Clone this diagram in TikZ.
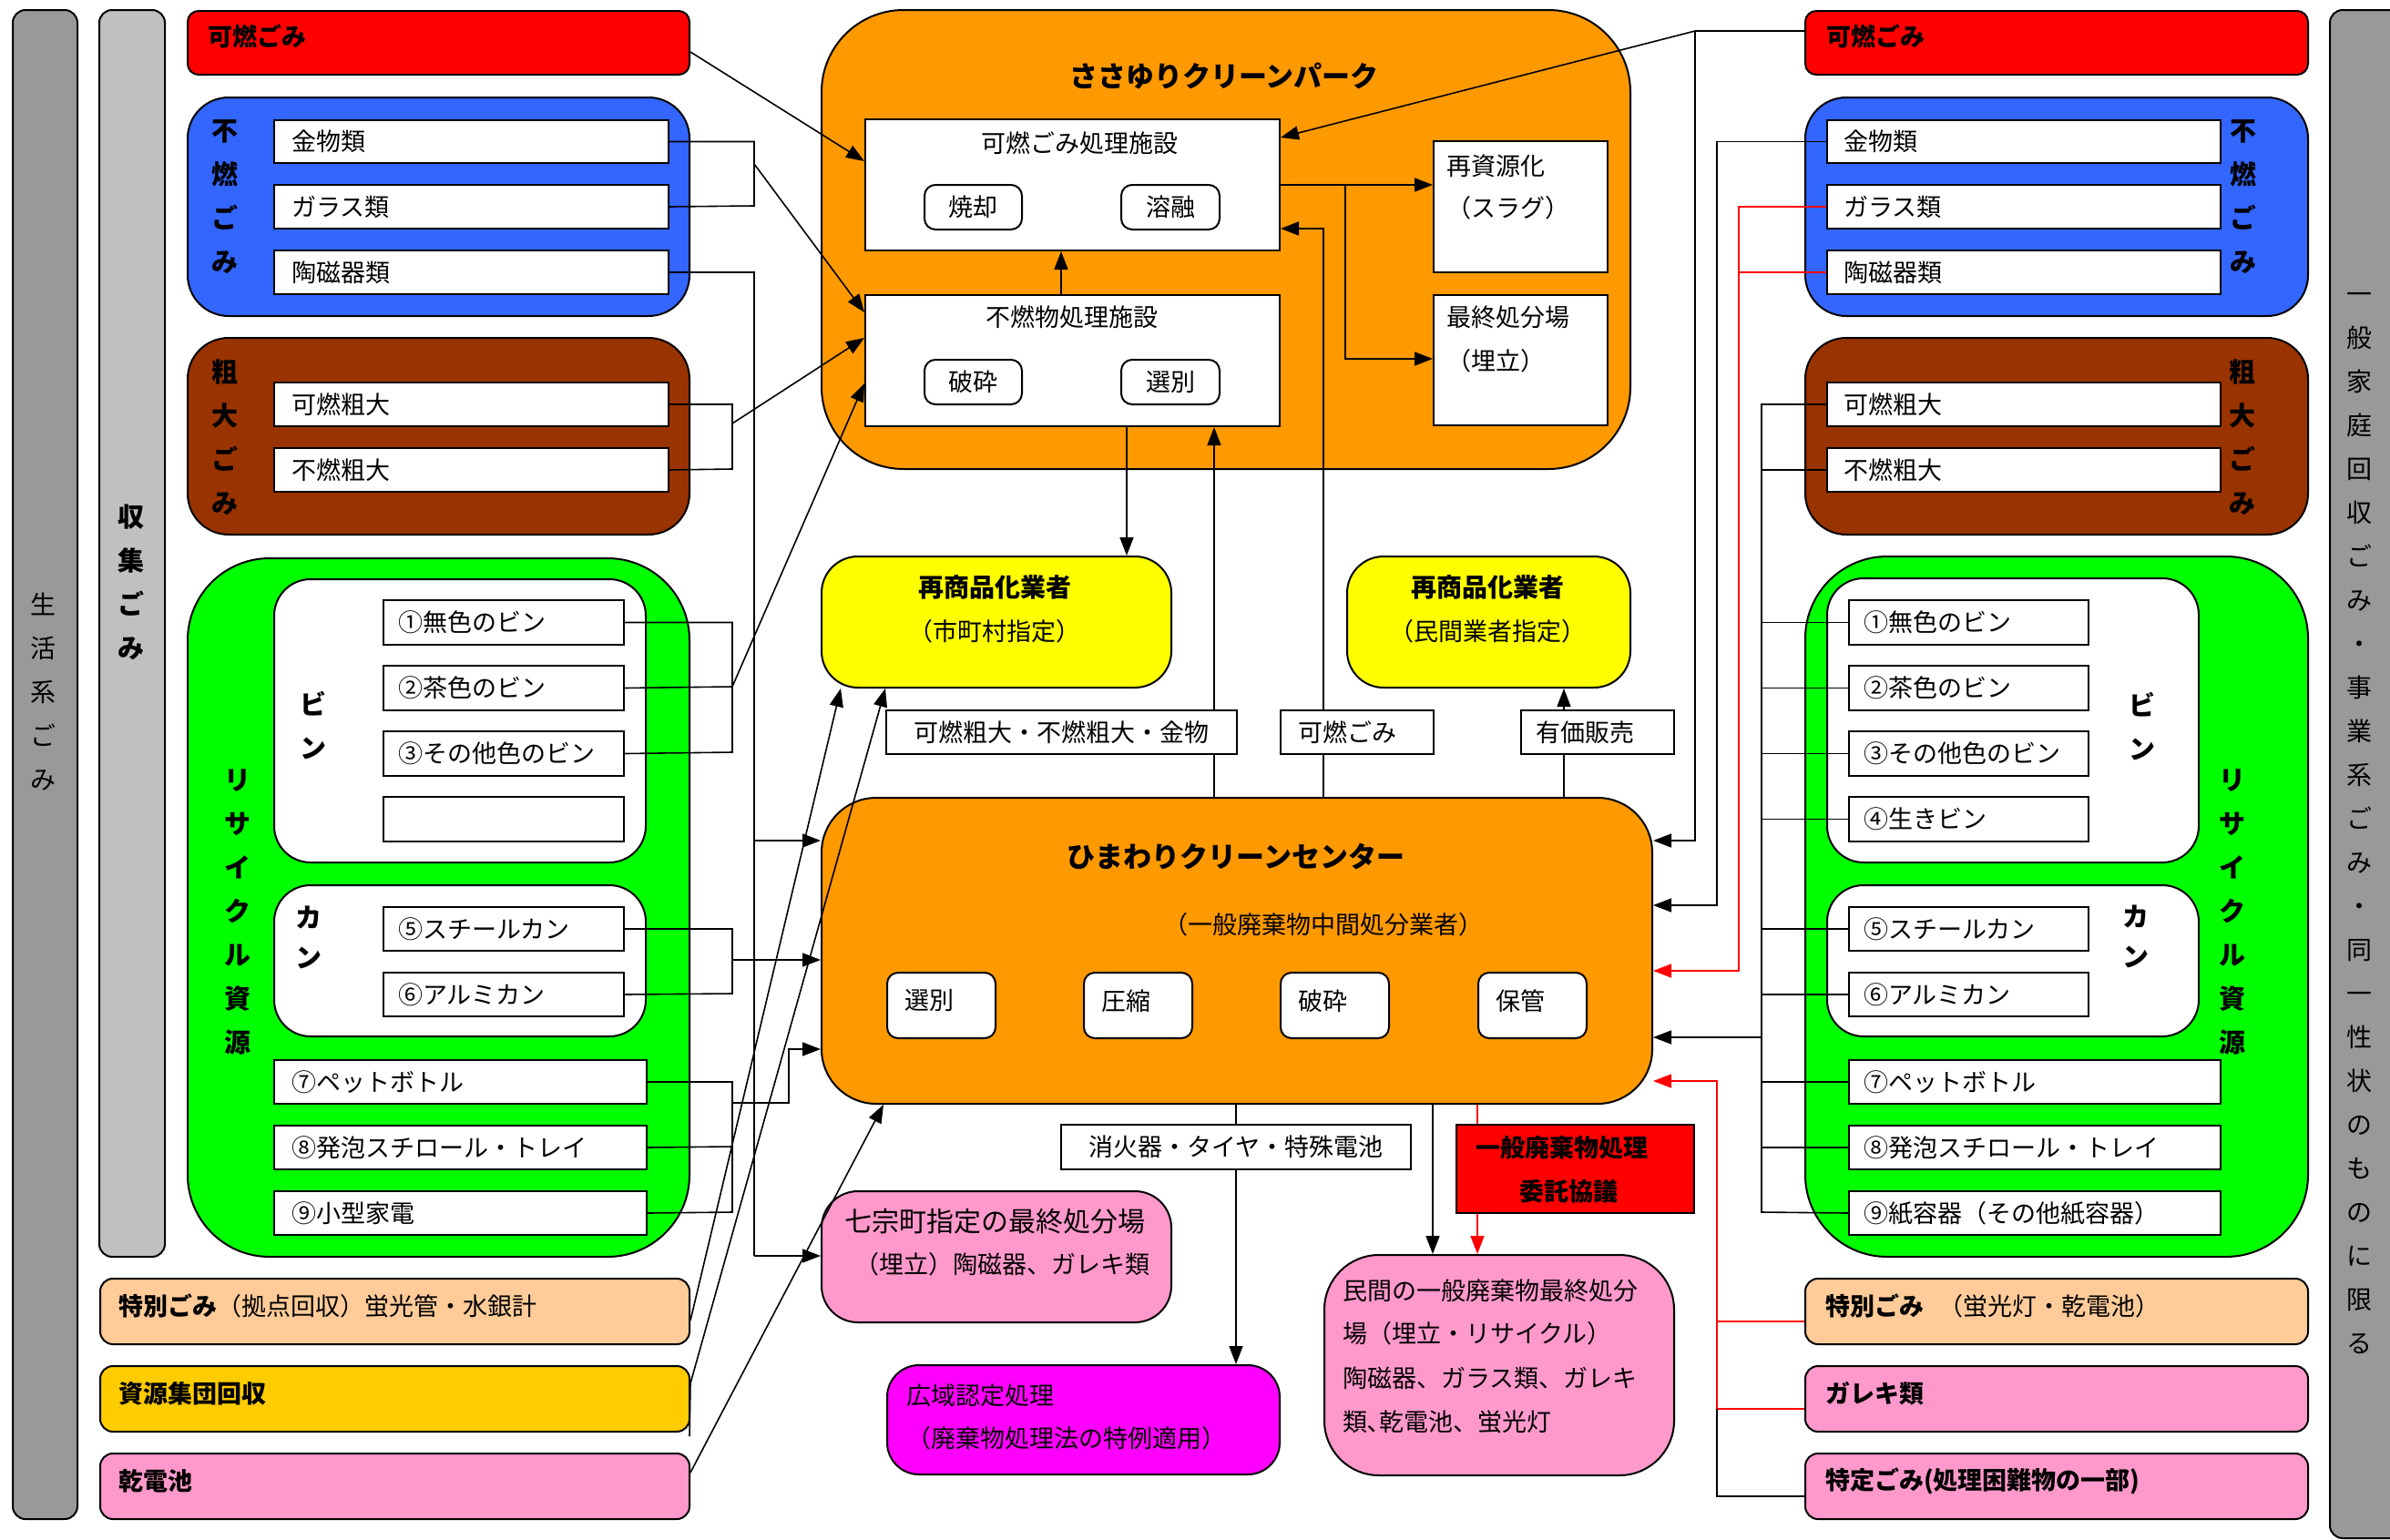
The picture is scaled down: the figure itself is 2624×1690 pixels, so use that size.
\documentclass[tikz,border=0pt]{standalone}
\usepackage{fontspec}
\setmainfont{Noto Sans CJK JP}
\usetikzlibrary{arrows.meta}
\definecolor{cgrayd}{HTML}{999999}
\definecolor{cgrayl}{HTML}{C0C0C0}
\definecolor{cred}{HTML}{FF0000}
\definecolor{cblue}{HTML}{3366FF}
\definecolor{cbrown}{HTML}{993300}
\definecolor{cgreen}{HTML}{00FF00}
\definecolor{corange}{HTML}{FF9900}
\definecolor{cyellow}{HTML}{FFFF00}
\definecolor{cpeach}{HTML}{FFCC99}
\definecolor{cgold}{HTML}{FFCC00}
\definecolor{cpink}{HTML}{FF99CC}
\definecolor{cmag}{HTML}{FF00FF}
\newcommand\bx[7]{%
  \pgfmathsetmacro\bxw{#4-#2}\pgfmathsetmacro\bxh{#5-#3}%
  \node[inner sep=0pt, anchor=north west, minimum width=\bxw pt, minimum height=\bxh pt, #6] (#1) at (#2,#3) {#7};}
\newcommand\bxl[8]{%
  \pgfmathsetmacro\bxw{#4-#2}\pgfmathsetmacro\bxh{#5-#3}\pgfmathsetmacro\bxt{#4-#2-2*#7}%
  \node[inner sep=0pt, anchor=north west, minimum width=\bxw pt, minimum height=\bxh pt, text width=\bxt pt, align=left, #6] (#1) at (#2,#3) {#8};}
\newcommand\upby[2]{\raisebox{#1}[\height][\depth]{#2}}
\tikzset{
  bord/.style={draw=black, line width=2pt},
  wb/.style={bord, fill=white},
  lab/.style={font=\fontsize{27}{32}\selectfont},
  labb/.style={font=\fontsize{27}{32}\selectfont\bfseries},
  ttl/.style={font=\fontsize{31}{36}\selectfont\bfseries},
  sbox/.style={bord, fill=white, rounded corners=12pt, lab},
  vt/.style={align=center, inner sep=0pt, font=\fontsize{29}{48}\selectfont\bfseries},
  vtr/.style={align=center, inner sep=0pt, font=\fontsize{28}{48}\selectfont},
  tx/.style={lab, inner sep=0pt},
  conn/.style={line width=1.6pt, draw=black},
  arr/.style={conn, -{Triangle[length=20pt,width=15pt]}},
  rconn/.style={line width=1.4pt, draw=cred},
  rarr/.style={rconn, -{Triangle[length=20pt,width=15pt]}},
}
\begin{document}
\begin{tikzpicture}[x=1pt,y=-1pt]
\fill[white] (0,0) rectangle (2624,1690);
\useasboundingbox (0,0) rectangle (2624,1690);

% ---------- side bars
\bx{barL}{13}{10}{84}{1667}{bord, fill=cgrayd, rounded corners=14pt}{}
\bx{barC}{108}{10}{180}{1379}{bord, fill=cgrayl, rounded corners=14pt}{}
\bx{barR}{2557}{10}{2680}{1688}{bord, fill=cgrayd, rounded corners=14pt}{}
\node[vtr] (vL) at (48,760) {生\\活\\系\\ご\\み};
\node[vt] (vC) at (144,639) {収\\集\\ご\\み};
\node[vtr] (vR) at (2590,904) {一\\般\\家\\庭\\回\\収\\ご\\み\\・\\事\\業\\系\\ご\\み\\・\\同\\一\\性\\状\\の\\も\\の\\に\\限\\る};

% ---------- left column
\bxl{kaL}{205}{11}{756}{81}{bord, fill=cred, rounded corners=12pt, labb}{22}{\upby{7pt}{可燃ごみ}}
\bx{blueL}{205}{106}{756}{346}{bord, fill=cblue, rounded corners=45pt}{}
\bxl{kinL}{300}{131}{733}{178}{wb, lab}{19}{金物類}
\bxl{glL}{300}{202}{733}{250}{wb, lab}{19}{ガラス類}
\bxl{tjL}{300}{274}{733}{322}{wb, lab}{19}{陶磁器類}
\node[vt] (vfL) at (247,216) {不\\燃\\ご\\み};
\bx{brownL}{205}{370}{756}{586}{bord, fill=cbrown, rounded corners=45pt}{}
\bxl{kfL}{300}{419}{733}{467}{wb, lab}{19}{可燃粗大}
\bxl{ffL}{300}{491}{733}{539}{wb, lab}{19}{不燃粗大}
\node[vt] (vsL) at (247,480) {粗\\大\\ご\\み};
\bx{greenL}{205}{612}{756}{1379}{bord, fill=cgreen, rounded corners=90pt}{}
\bx{binL}{300}{635}{708}{946}{bord, fill=white, rounded corners=40pt}{}
\bxl{b1L}{420}{658}{684}{707}{wb, lab}{16}{①無色のビン}
\bxl{b2L}{420}{730}{684}{779}{wb, lab}{16}{②茶色のビン}
\bxl{b3L}{420}{802}{684}{851}{wb, lab}{16}{③その他色のビン}
\bxl{b4L}{420}{874}{684}{923}{wb, lab}{16}{}
\node[vt] (vbL) at (344,797) {ビ\\ン};
\bx{canL}{300}{971}{708}{1137}{bord, fill=white, rounded corners=40pt}{}
\bxl{b5L}{420}{995}{684}{1043}{wb, lab}{16}{⑤スチールカン}
\bxl{b6L}{420}{1067}{684}{1115}{wb, lab}{16}{⑥アルミカン}
\node[vt, font=\fontsize{29}{44}\selectfont\bfseries] (vcL) at (339,1029) {カ\\ン};
\node[vt] (vrL) at (261,1002) {リ\\サ\\イ\\ク\\ル\\資\\源};
\bxl{b7L}{300}{1163}{709}{1211}{wb, lab}{19}{⑦ペットボトル}
\bxl{b8L}{300}{1235}{709}{1283}{wb, lab}{19}{⑧発泡スチロール・トレイ}
\bxl{b9L}{300}{1307}{709}{1355}{wb, lab}{19}{⑨小型家電}
\bxl{tokuL}{109}{1403}{756}{1475}{bord, fill=cpeach, rounded corners=14pt, lab}{20}{\upby{6pt}{{\bfseries 特別ごみ}（拠点回収）蛍光管・水銀計}}
\bxl{shuL}{109}{1499}{756}{1571}{bord, fill=cgold, rounded corners=14pt, labb}{20}{\upby{6pt}{資源集団回収}}
\bxl{kanL}{109}{1595}{756}{1667}{bord, fill=cpink, rounded corners=14pt, labb}{20}{\upby{6pt}{乾電池}}

% ---------- centre: sasayuri
\bx{sasa}{901}{10}{1789}{514}{bord, fill=corange, rounded corners=90pt}{}
\node[ttl] (tSasa) at (1344,84) {ささゆりクリーンパーク};
\bx{kanen}{949}{130}{1404}{274}{wb}{}
\node[tx] (tKanen) at (1185,157) {可燃ごみ処理施設};
\bx{shoky}{1014}{202}{1121}{251}{sbox}{焼却}
\bx{youyu}{1230}{202}{1338}{251}{sbox}{溶融}
\bx{funen}{949}{323}{1404}{467}{wb}{}
\node[tx] (tFunen) at (1177,348) {不燃物処理施設};
\bx{hasai1}{1014}{394}{1121}{443}{sbox}{破砕}
\bx{senb1}{1230}{394}{1338}{443}{sbox}{選別}
\bx{saishigen}{1573}{154}{1764}{298}{wb}{}
\node[tx, anchor=west] (tSai1) at (1588,182) {再資源化};
\node[tx, anchor=west] (tSai2) at (1588,228) {（スラグ）};
\bx{saishu}{1573}{323}{1764}{466}{wb}{}
\node[tx, anchor=west] (tSsh1) at (1588,348) {最終処分場};
\node[tx, anchor=west] (tSsh2) at (1588,396) {（埋立）};

% ---------- yellow
\bx{yelL}{901}{610}{1285}{754}{bord, fill=cyellow, rounded corners=40pt}{}
\node[tx, font=\fontsize{28}{32}\selectfont\bfseries] (tY1) at (1092,645) {再商品化業者};
\node[tx] (tY2) at (1092,693) {（市町村指定）};
\bx{yelR}{1478}{610}{1789}{754}{bord, fill=cyellow, rounded corners=40pt}{}
\node[tx, font=\fontsize{28}{32}\selectfont\bfseries] (tY3) at (1633,645) {再商品化業者};
\node[tx] (tY4) at (1633,693) {（民間業者指定）};

% ---------- himawari
\bx{hima}{901}{875}{1813}{1211}{bord, fill=corange, rounded corners=60pt}{}
\node[ttl] (tHima) at (1357,941) {ひまわりクリーンセンター};
\node[tx] (tHima2) at (1453,1015) {（一般廃棄物中間処分業者）};
\bxl{s1}{973}{1067}{1092}{1139}{sbox}{19}{\upby{5pt}{選別}}
\bxl{s2}{1189}{1067}{1308}{1139}{sbox}{19}{\upby{5pt}{圧縮}}
\bxl{s3}{1405}{1067}{1524}{1139}{sbox}{19}{\upby{5pt}{破砕}}
\bxl{s4}{1622}{1067}{1741}{1139}{sbox}{19}{\upby{5pt}{保管}}

% ---------- bottom centre
\bx{hichi}{901}{1307}{1285}{1451}{bord, fill=cpink, rounded corners=40pt}{}
\node[tx, font=\fontsize{30}{34}\selectfont] (tH1) at (1092,1341) {七宗町指定の最終処分場};
\node[tx] (tH2) at (1100,1388) {（埋立）陶磁器、ガレキ類};
\bx{koiki}{973}{1498}{1404}{1618}{bord, fill=cmag, rounded corners=35pt}{}
\node[tx, anchor=west] (tK1) at (995,1532) {広域認定処理};
\node[tx, anchor=west] (tK2) at (995,1579) {（廃棄物処理法の特例適用）};
\bx{itaku}{1598}{1234}{1859}{1331}{bord, fill=cred}{}
\node[labb] (tI1) at (1715,1260) {一般廃棄物処理};
\node[labb] (tI2) at (1722,1308) {委託協議};
\bx{minkan}{1453}{1377}{1837}{1619}{bord, fill=cpink, rounded corners=60pt}{}
\node[tx, anchor=west] (tM1) at (1474,1417) {民間の一般廃棄物最終処分};
\node[tx, anchor=west] (tM2) at (1474,1464) {場（埋立・リサイクル）};
\node[tx, anchor=west] (tM3) at (1474,1513) {陶磁器、ガラス類、ガレキ};
\node[tx, anchor=west] (tM4) at (1474,1561) {類､乾電池、蛍光灯};

% ---------- right column
\bxl{kaR}{1981}{11}{2533}{81}{bord, fill=cred, rounded corners=12pt, labb}{23}{\upby{7pt}{可燃ごみ}}
\bx{blueR}{1981}{106}{2533}{346}{bord, fill=cblue, rounded corners=45pt}{}
\bxl{kinR}{2005}{131}{2437}{178}{wb, lab}{18}{金物類}
\bxl{glR}{2005}{202}{2437}{250}{wb, lab}{18}{ガラス類}
\bxl{tjR}{2005}{274}{2437}{322}{wb, lab}{18}{陶磁器類}
\node[vt] (vfR) at (2463,216) {不\\燃\\ご\\み};
\bx{brownR}{1981}{370}{2533}{586}{bord, fill=cbrown, rounded corners=45pt}{}
\bxl{kfR}{2005}{419}{2437}{467}{wb, lab}{18}{可燃粗大}
\bxl{ffR}{2005}{491}{2437}{539}{wb, lab}{18}{不燃粗大}
\node[vt] (vsR) at (2462,480) {粗\\大\\ご\\み};
\bx{greenR}{1981}{610}{2533}{1379}{bord, fill=cgreen, rounded corners=90pt}{}
\bx{binR}{2005}{634}{2413}{946}{bord, fill=white, rounded corners=40pt}{}
\bxl{b1R}{2029}{658}{2292}{707}{wb, lab}{16}{①無色のビン}
\bxl{b2R}{2029}{730}{2292}{779}{wb, lab}{16}{②茶色のビン}
\bxl{b3R}{2029}{802}{2292}{851}{wb, lab}{16}{③その他色のビン}
\bxl{b4R}{2029}{874}{2292}{923}{wb, lab}{16}{④生きビン}
\node[vt] (vbR) at (2352,798) {ビ\\ン};
\bx{canR}{2005}{971}{2413}{1137}{bord, fill=white, rounded corners=40pt}{}
\bxl{b5R}{2029}{995}{2292}{1043}{wb, lab}{16}{⑤スチールカン}
\bxl{b6R}{2029}{1067}{2292}{1115}{wb, lab}{16}{⑥アルミカン}
\node[vt, font=\fontsize{29}{44}\selectfont\bfseries] (vcR) at (2345,1028) {カ\\ン};
\node[vt] (vrR) at (2451,1002) {リ\\サ\\イ\\ク\\ル\\資\\源};
\bxl{b7R}{2029}{1163}{2437}{1211}{wb, lab}{16}{⑦ペットボトル}
\bxl{b8R}{2029}{1235}{2437}{1283}{wb, lab}{16}{⑧発泡スチロール・トレイ}
\bxl{b9R}{2029}{1307}{2437}{1355}{wb, lab}{16}{⑨紙容器（その他紙容器）}
\bxl{tokuR}{1981}{1403}{2533}{1475}{bord, fill=cpeach, rounded corners=14pt, lab}{22}{\upby{6pt}{{\bfseries 特別ごみ}\hspace{16pt}（蛍光灯・乾電池）}}
\bxl{garekiR}{1981}{1499}{2533}{1571}{bord, fill=cpink, rounded corners=14pt, labb}{22}{\upby{6pt}{ガレキ類}}
\bxl{tokuteiR}{1981}{1595}{2533}{1667}{bord, fill=cpink, rounded corners=14pt, labb}{22}{\upby{6pt}{特定ごみ(処理困難物の一部)}}

% ---------- junction coordinates
\coordinate (jA) at (828,180);
\coordinate (jAbot) at (828,1379);
\coordinate (jAh) at (828,923);
\coordinate (jB) at (804,465);
\coordinate (jC) at (804,754);
\coordinate (jD) at (804,1054);
\coordinate (jE) at (804,1211);
\coordinate (jF) at (757,1577);
\coordinate (jG) at (1477,203);
\coordinate (jH) at (1861,34);
\coordinate (jK) at (1934,1139);
\coordinate (jR) at (1885,1547);

% ---------- left connectors
\draw[arr] (kaL.east |- 0,57) -- (kanen.west |- 0,177);
\draw[conn] (kinL.east) -| (828,226) -- (glL.east);
\draw[arr] (jA) -- (funen.west |- 0,343);
\draw[conn] (tjL.east) -| (jAbot);
\draw[arr] (jAbot) -- (hichi.west |- jAbot);
\draw[arr] (jAh) -- (hima.west |- jAh);
\draw[conn] (kfL.east) -| (804,515) -- (ffL.east);
\draw[arr] (jB) -- (funen.west |- 0,371);
\draw[conn] (b1L.east) -| (804,826) -- (b3L.east);
\draw[conn] (b2L.east) -- (jC);
\draw[arr] (jC) -- (funen.west |- 0,421);
\draw[conn] (b5L.east) -| (804,1091) -- (b6L.east);
\draw[arr] (jD) -- (hima.west |- jD);
\draw[conn] (b7L.east) -| (804,1331) -- (b9L.east);
\draw[conn] (b8L.east) -- (804,1259);
\draw[arr] (jE) -- (866,1211) -- (866,1152) -- (hima.west |- 0,1152);
\draw[arr] (tokuL.east |- 0,1450) -- (923,0 |- yelL.south);
\draw[arr] (jF) -- (shuL.east |- 0,1519) -- (972,0 |- yelL.south);
\draw[arr] (kanL.east |- 0,1617) -- (970,0 |- hima.south);

% ---------- centre connectors
\draw[arr] (funen.north -| 1165,0) -- (kanen.south -| 1165,0);
\draw[arr] (kanen.east |- jG) -- (saishigen.west |- jG);
\draw[arr] (jG) |- (saishu.west |- 0,394);
\draw[arr] (1237,0 |- funen.south) -- (1237,0 |- yelL.north);
\draw[arr] (1333,0 |- hima.north) -- (1333,0 |- funen.south);
\draw[arr] (1453,0 |- hima.north) |- (kanen.east |- 0,251);
\draw[arr] (1717,0 |- hima.north) -- (1717,0 |- yelR.south);
\draw[arr] (1357,0 |- hima.south) -- (1357,0 |- koiki.north);
\draw[arr] (1573,0 |- hima.south) -- (1573,0 |- minkan.north);
\draw[rconn] (1622,0 |- hima.south) -- (1622,0 |- itaku.north);
\draw[rarr] (1622,0 |- itaku.south) -- (1622,0 |- minkan.north);

% ---------- right connectors
\draw[conn] (kaR.west |- jH) -- (jH);
\draw[arr] (jH) -- (kanen.east |- 0,151);
\draw[arr] (jH) -- (1861,923) -- (hima.east |- 0,923);
\draw[arr] (kinR.west) -| (1885,994) -- (hima.east |- 0,994);
\draw[rconn] (tjR.west) -- (1909,0 |- tjR.west);
\draw[rarr] (glR.west) -| (1909,1066) -- (hima.east |- 0,1066);
\draw[conn] (kfR.west) -| (1934,1331) -- (b9R.west);
\foreach \n in {ffR,b1R,b2R,b3R,b4R,b5R,b6R,b7R,b8R}{
  \draw[conn] (\n.west) -- (1934,0 |- \n.west);
}
\draw[arr] (jK) -- (hima.east |- jK);
\draw[rconn] (tokuR.west |- 0,1451) -- (1885,1451);
\draw[rarr] (garekiR.west |- jR) -- (jR) -- (1885,1187) -- (hima.east |- 0,1187);
\draw[conn] (tokuteiR.west |- 0,1643) -- (1885,1643) -- (jR);

% ---------- labels on connectors
\bx{lab1}{972}{779}{1357}{827}{wb, lab}{可燃粗大・不燃粗大・金物}
\bxl{lab2}{1405}{779}{1573}{827}{wb, lab}{19}{可燃ごみ}
\bxl{lab3}{1669}{779}{1837}{827}{wb, lab}{16}{有価販売}
\bx{lab4}{1164}{1234}{1548}{1283}{wb, lab}{消火器・タイヤ・特殊電池}
\end{tikzpicture}
\end{document}
